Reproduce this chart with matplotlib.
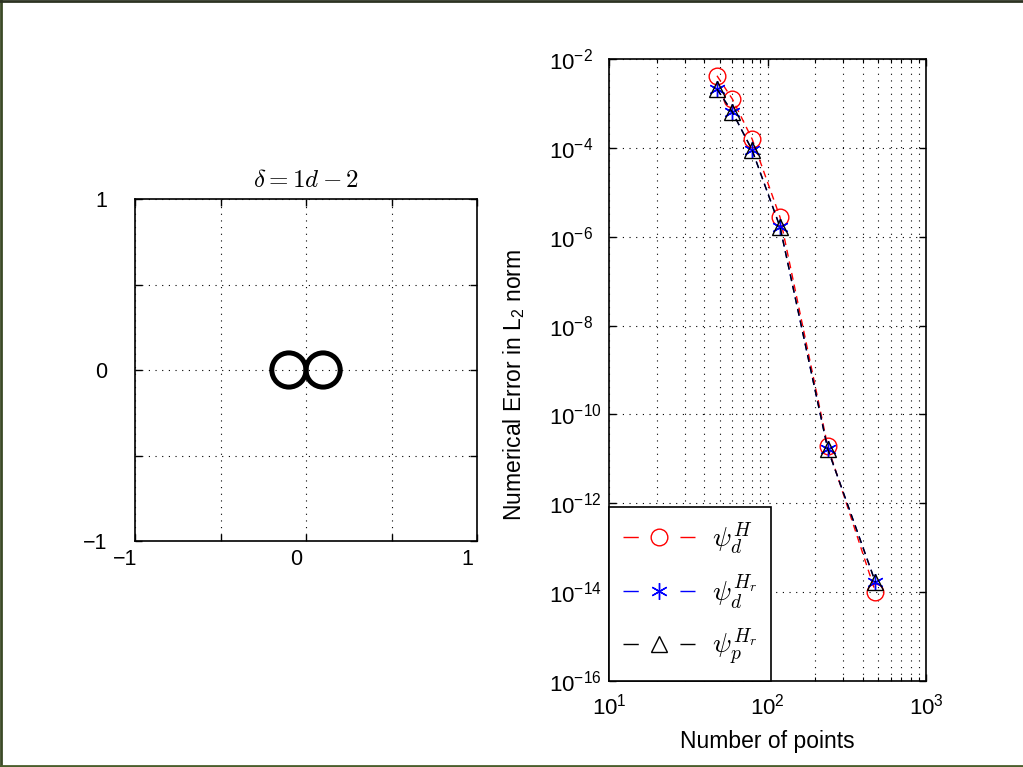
import matplotlib
matplotlib.use('Agg')
import matplotlib.pyplot as plt
import numpy as np
from matplotlib.patches import Circle
from matplotlib.lines import Line2D
from matplotlib.font_manager import FontProperties
from matplotlib.transforms import ScaledTranslation
from matplotlib.ticker import NullLocator, LogLocator

plt.rcParams['font.family'] = ['Liberation Sans', 'DejaVu Sans']
plt.rcParams['mathtext.fontset'] = 'custom'
plt.rcParams['mathtext.rm'] = 'Liberation Sans'
plt.rcParams['mathtext.it'] = 'Liberation Sans:italic'
plt.rcParams['mathtext.bf'] = 'Liberation Sans:bold'

# left panel: the two contours
circle_x = [-0.1, 0.1]
circle_y = [0.0, 0.0]
circle_r = [0.1, 0.1]
left_ticks = [-1, -0.5, 0, 0.5, 1]
left_ticklabels = ['\u22121', '', '0', '', '1']

# right panel: convergence
n_points = [48, 60, 80, 120, 240, 480]
err_dH = [4.2e-3, 1.26e-3, 1.58e-4, 2.75e-6, 1.9e-11, 1.0e-14]
err_dHr = [2.1e-3, 6.4e-4, 8.9e-5, 1.65e-6, 1.66e-11, 1.66e-14]
err_pHr = [2.1e-3, 6.4e-4, 8.9e-5, 1.65e-6, 1.66e-11, 1.66e-14]
labels = [r'$\psi_d^H$', r'$\psi_d^{H_r}$', r'$\psi_p^{H_r}$']
yticks = [1e-16, 1e-14, 1e-12, 1e-10, 1e-8, 1e-6, 1e-4, 1e-2]

fig = plt.figure(figsize=(10.23, 7.67), dpi=100)
grid_kw = dict(ls=(0, (1, 5)), lw=0.8, color='k')

# ---- left axes
ax1 = fig.add_axes([135 / 1023, (767 - 541) / 767, 342 / 1023, 342 / 767])
for cx, cy, r in zip(circle_x, circle_y, circle_r):
    ax1.add_patch(Circle((cx, cy), r, fill=False, lw=3.6, color='k'))
ax1.set_xlim(-1, 1)
ax1.set_ylim(-1, 1)
ax1.set_xticks(left_ticks)
ax1.set_yticks(left_ticks)
ax1.set_xticklabels(left_ticklabels)
ax1.set_yticklabels(left_ticklabels)
ax1.grid(True, **grid_kw)
ax1.tick_params(direction='in', length=5, width=1, labelsize=15.5,
                top=True, right=True)
ax1.tick_params(axis='y', pad=20)
ax1.tick_params(axis='x', pad=6)
for lbl in ax1.get_xticklabels():
    lbl.set_transform(lbl.get_transform() + ScaledTranslation(-10 / 100, 0, fig.dpi_scale_trans))
for s in ax1.spines.values():
    s.set_linewidth(1.2)
ax1.set_title(r'$\delta = 1d - 2$', math_fontfamily='cm', fontsize=18, pad=9)

# ---- right axes
ax2 = fig.add_axes([609 / 1023, (767 - 681) / 767, 317 / 1023, 622 / 767])
ax2.loglog(n_points, err_dH, color='r', ls='--', dashes=(5, 3.5), lw=1.0,
           marker='o', ms=12, mfc='none', mew=1.0, label=labels[0])
ax2.loglog(n_points, err_dHr, color='b', ls='--', dashes=(5, 3.5), lw=1.0,
           marker=(6, 2, 0), ms=12, mew=1.0, label=labels[1])
ax2.loglog(n_points, err_pHr, color='k', ls='--', dashes=(5, 3.5), lw=1.0,
           marker='^', ms=12, mfc='none', mew=1.0, label=labels[2])
ax2.set_xlim(10, 1000)
ax2.set_ylim(1e-16, 1e-2)
ax2.set_yticks(yticks)
ax2.yaxis.set_minor_locator(NullLocator())
ax2.xaxis.set_minor_locator(LogLocator(base=10, subs=np.arange(2, 10)))
ax2.grid(True, which='major', **grid_kw)
ax2.xaxis.grid(True, which='minor', **grid_kw)
ax2.tick_params(which='both', direction='in', top=True, right=True, labelsize=16)
ax2.tick_params(which='major', length=5, width=1)
ax2.tick_params(which='minor', length=3, width=0.8, labelbottom=False)
ax2.tick_params(axis='y', pad=43)
ax2.tick_params(axis='x', pad=9)
for lbl in ax2.get_yticklabels():
    lbl.set_horizontalalignment('left')
for s in ax2.spines.values():
    s.set_linewidth(1.2)
ax2.set_xlabel('Number of points', fontsize=16.5)
ax2.set_ylabel('Numerical Error in L$_2$ norm', fontsize=16.5)
ax2.xaxis.set_label_coords(0.5, -0.078)
ax2.yaxis.set_label_coords(-0.258, 0.476)

leg = ax2.legend(loc='lower left', borderaxespad=0, fancybox=False,
                 edgecolor='k', framealpha=1, handlelength=2.6,
                 handletextpad=0.6, borderpad=0.5, labelspacing=0.55,
                 prop=FontProperties(size=20, math_fontfamily='cm'))
leg.get_frame().set_linewidth(1.2)
for ln in leg.get_lines():
    ln.set_dashes((11, 30))

# figure frame (left, top, bottom)
frame_c = '#3b4a26'
fig.add_artist(Line2D([0.001, 0.001], [0, 1], transform=fig.transFigure, color=frame_c, lw=2))
fig.add_artist(Line2D([0, 1], [0.999, 0.999], transform=fig.transFigure, color='#2d3322', lw=2))
fig.add_artist(Line2D([0, 1], [0.0015, 0.0015], transform=fig.transFigure, color='#4a5e2c', lw=2))

fig.savefig('out.png', dpi=100)
